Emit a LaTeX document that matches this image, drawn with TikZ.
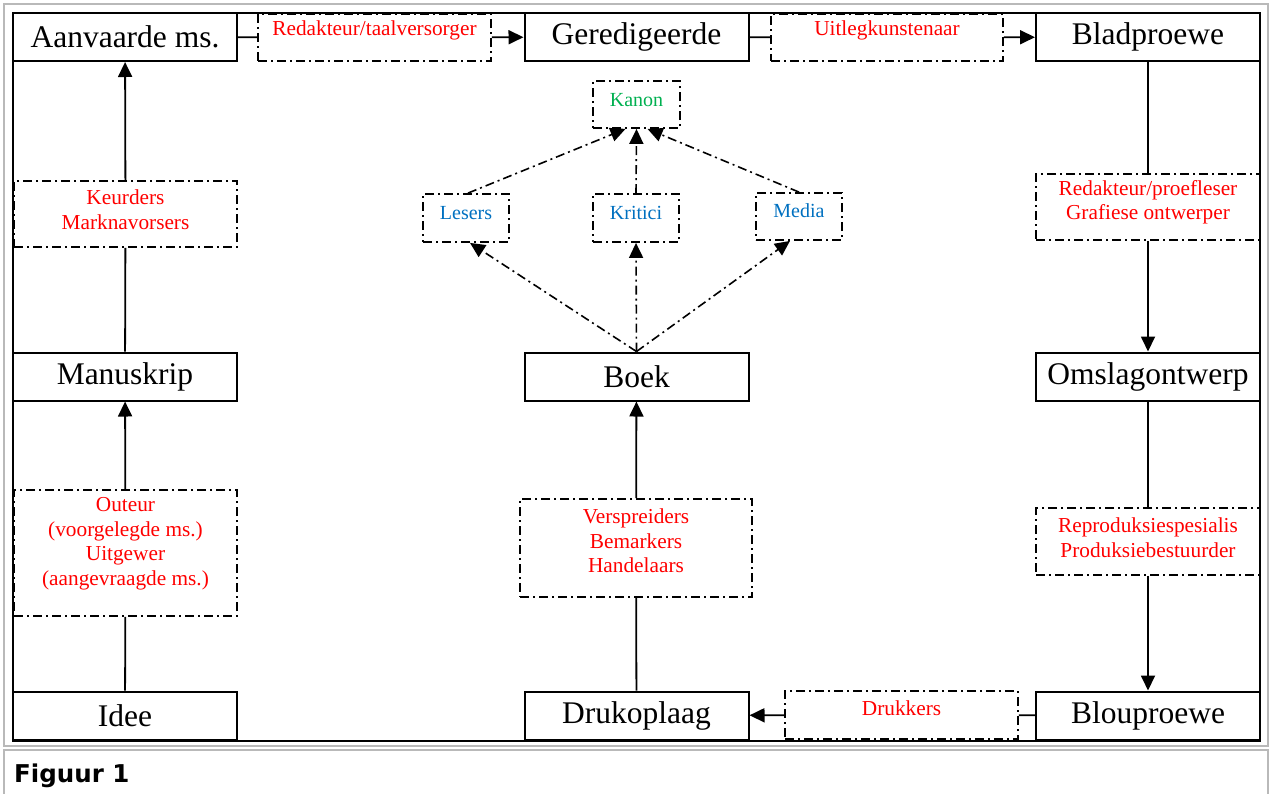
\documentclass[tikz,border=0pt]{standalone}
\usepackage{fontspec}
\setmainfont{Liberation Serif}
\newfontfamily\capfont{DejaVu Sans}
\usepackage{xcolor}
\usetikzlibrary{arrows.meta,positioning}

\definecolor{rolered}{HTML}{FF0000}
\definecolor{groupblue}{HTML}{0070C0}
\definecolor{canongreen}{HTML}{00B050}

\begin{document}
\begin{tikzpicture}[x=1pt,y=-1pt,
    stage node/.style={draw,line width=2pt,minimum width=224pt,minimum height=48pt,
      inner sep=0pt,font=\fontsize{31.5}{34}\selectfont},
    role box/.style={draw,line width=1.8pt,dash pattern=on 9pt off 4pt on 2pt off 4pt,
      inner sep=0pt},
    role text/.style={text=rolered,align=center,inner sep=0pt,
      font=\fontsize{21.3}{24.5}\selectfont},
    group text/.style={text=groupblue,inner sep=0pt,font=\fontsize{20}{22}\selectfont},
    link/.style={line width=1.8pt},
    flow/.style={line width=1.8pt,-{Triangle[length=15pt,width=14pt]}},
    influence/.style={line width=1.6pt,dash pattern=on 9pt off 4pt on 2pt off 4pt,
      -{Triangle[length=15pt,width=14pt]}}]
    \useasboundingbox (0,0) rectangle (1274,793);
    % web frame
    \draw[gray!55,line width=1.8pt] (4,4) rectangle (1268,746);
    \draw[gray!55,line width=1.8pt] (4,800) -- (4,750) -- (1268,750) -- (1268,800);
    \node[anchor=base west,inner sep=0pt,font=\capfont\bfseries\fontsize{24.5}{28}\selectfont]
      (fig) at (14,782) {Figuur 1};
    \draw[line width=2pt] (13,13) rectangle (1260,741);

    % stages
    \node[stage node] (aanv) at (125,37) {Aanvaarde ms.};
    \node[stage node] (gered) at (636.5,37) {Geredigeerde};
    \node[stage node] (blad) at (1148,37) {Bladproewe};
    \node[stage node] (manu) at (125,376.5) {Manuskrip};
    \node[stage node] (boek) at (636.5,376.5) {Boek};
    \node[stage node] (omsl) at (1148,376.5) {Omslagontwerp};
    \node[stage node] (idee) at (125,715.5) {Idee};
    \node[stage node] (druk) at (636.5,715.5) {Drukoplaag};
    \node[stage node] (blou) at (1148,715.5) {Blouproewe};

    % role boxes
    \node[role box,minimum width=233pt,minimum height=47pt] (taal) at (374.5,37.5) {};
    \node[role text] (taalt) at (374.5,30) {Redakteur/taalversorger};
    \node[role box,minimum width=232pt,minimum height=47pt] (uitl) at (887,37.5) {};
    \node[role text] (uitlt) at (887,30) {Uitlegkunstenaar};
    \node[role box,minimum width=223pt,minimum height=66pt] (keur) at (125.5,214) {};
    \node[role text] (keurt) at (125.5,209.5) {Keurders\\Marknavorsers};
    \node[role box,minimum width=223pt,minimum height=126pt] (oute) at (125.5,553) {};
    \node[role text] (outet) at (125.5,543.5) {Outeur\\(voorgelegde ms.)\\Uitgewer\\(aangevraagde ms.)};
    \node[role box,minimum width=224pt,minimum height=66pt] (redp) at (1148,207) {};
    \node[role text] (redpt) at (1148,202.5) {Redakteur/proefleser\\Grafiese ontwerper};
    \node[role box,minimum width=224pt,minimum height=67pt] (repr) at (1148,541.5) {};
    \node[role text] (reprt) at (1148,537.5) {Reproduksiespesialis\\Produksiebestuurder};
    \node[role box,minimum width=233pt,minimum height=48pt] (drkk) at (901.5,715) {};
    \node[role text] (drkkt) at (901.5,708) {Drukkers};
    \node[role box,minimum width=232pt,minimum height=98pt] (vers) at (636,548) {};
    \node[role text] (verst) at (636,541) {Verspreiders\\Bemarkers\\Handelaars};

    % reception
    \node[role box,minimum width=87pt,minimum height=47pt] (kano) at (636.5,104.5) {};
    \node[text=canongreen,inner sep=0pt,font=\fontsize{20}{22}\selectfont] (kanot) at (636.5,100) {Kanon};
    \node[role box,minimum width=86pt,minimum height=48pt] (lese) at (466,218) {};
    \node[group text] (leset) at (466,213) {Lesers};
    \node[role box,minimum width=86pt,minimum height=48pt] (krit) at (636,218) {};
    \node[group text] (kritt) at (636,213) {Kritici};
    \node[role box,minimum width=86pt,minimum height=47pt] (medi) at (799,216.5) {};
    \node[group text] (medit) at (799,211) {Media};

    % production flow
    \draw[link] (idee) -- (oute);
    \draw[flow] (oute) -- (manu);
    \draw[link] (manu) -- (keur);
    \draw[flow] (keur) -- (aanv);
    \draw[link] (aanv) -- (taal);
    \draw[flow] (taal) -- (gered);
    \draw[link] (gered) -- (uitl);
    \draw[flow] (uitl) -- (blad);
    \draw[link] (blad) -- (redp);
    \draw[flow] (redp) -- (omsl);
    \draw[link] (omsl) -- (repr);
    \draw[flow] (repr) -- (blou);
    \draw[link] (blou) -- (drkk);
    \draw[flow] (drkk) -- (druk);
    \draw[link] (druk) -- (vers);
    \draw[flow] (vers) -- (boek);

    % reception flow
    \draw[influence] (boek.north) -- ([xshift=4pt]lese.south);
    \draw[influence] (boek.north) -- (krit.south);
    \draw[influence] (boek.north) -- ([xshift=-9pt]medi.south);
    \draw[influence] ([xshift=2pt]lese.north) -- ([xshift=-11pt]kano.south);
    \draw[influence] (krit.north) -- (kano.south);
    \draw[influence] (medi.north) -- ([xshift=11pt]kano.south);
\end{tikzpicture}
\end{document}
